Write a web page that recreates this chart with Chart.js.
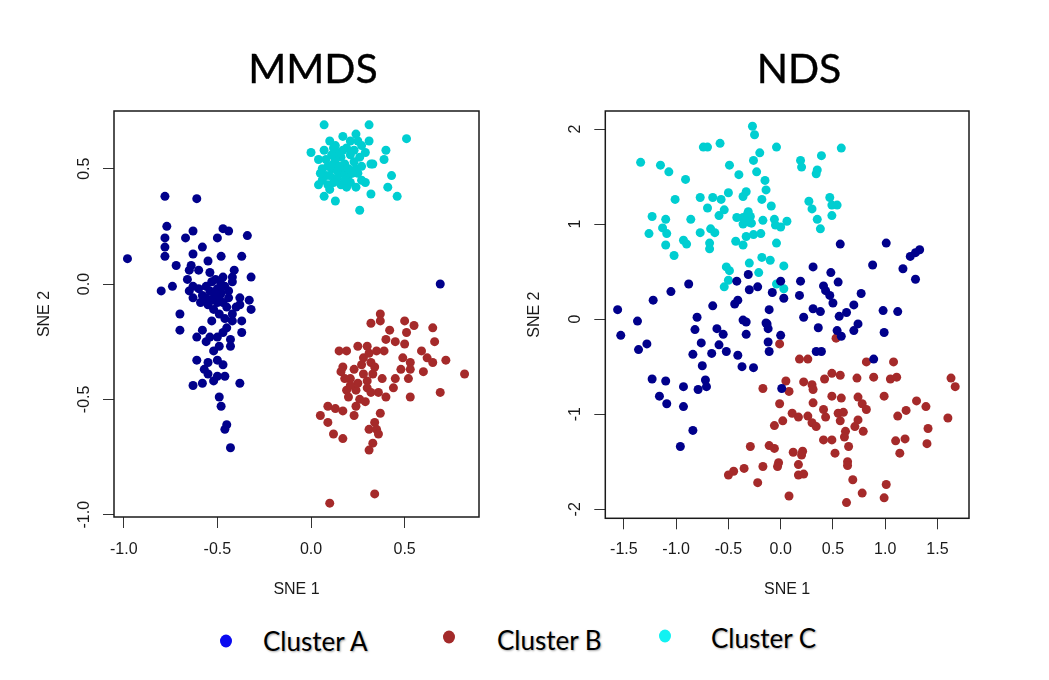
<!DOCTYPE html>
<html><head><meta charset="utf-8">
<script src="https://cdn.jsdelivr.net/npm/chart.js@4.4.0/dist/chart.umd.min.js"></script>
<style>
html,body{margin:0;padding:0;background:#fff;width:1049px;height:680px;overflow:hidden;position:relative;}
canvas{position:absolute;top:0;}
#c1{left:0;} #c2{left:500px;}
.title{position:absolute;font-family:Lato,'Open Sans',sans-serif;font-size:41px;color:#000;transform:translateX(-50%);white-space:nowrap;line-height:1;-webkit-text-stroke:0.4px #000;}
.leg{position:absolute;font-family:Lato,'Open Sans',sans-serif;font-size:26px;color:#000;text-shadow:1px 1px 2px rgba(0,0,0,0.35);line-height:1;white-space:nowrap;transform:translateY(-50%);}
.dot{position:absolute;width:12px;height:13px;border-radius:50%;filter:blur(0.7px);transform:translate(-50%,-50%);}
</style></head>
<body>
<canvas id="c1" width="500" height="610"></canvas>
<canvas id="c2" width="549" height="610"></canvas>
<div class="title" style="left:313px;top:47px">MMDS</div>
<div class="title" style="left:799px;top:47px">NDS</div>
<div id="legend"></div>
<script>
// ---------------- data ----------------
const clusterNames = ['Cluster A', 'Cluster B', 'Cluster C'];
const clusterColors = ['#00008B', '#A52A2A', '#00CED1'];
const legendColors = ['#0a0af0', '#a32a2a', '#12f2f2'];

const mmdsA = [[-0.78,0.38],[-0.61,0.37],[-0.77,0.25],[-0.63,0.23],[-0.47,0.24],[-0.44,0.23],[-0.78,0.20],[-0.67,0.20],[-0.50,0.20],[-0.34,0.21],[-0.58,0.16],[-0.78,0.16],[-0.63,0.13],[-0.78,0.12],[-0.98,0.11],[-0.48,0.12],[-0.37,0.12],[-0.55,0.10],[-0.72,0.08],[-0.64,0.08],[-0.65,0.06],[-0.60,0.06],[-0.41,0.06],[-0.54,0.05],[-0.32,0.03],[-0.47,0.03],[-0.42,0.03],[-0.66,0.02],[-0.53,0.01],[-0.80,-0.03],[-0.74,-0.01],[-0.63,-0.01],[-0.56,-0.01],[-0.48,0.00],[-0.58,-0.05],[-0.54,-0.03],[-0.50,-0.02],[-0.48,-0.04],[-0.44,-0.06],[-0.42,0.01],[-0.38,-0.06],[-0.33,-0.07],[-0.32,-0.11],[-0.38,-0.09],[-0.63,-0.06],[-0.59,-0.08],[-0.55,-0.09],[-0.50,-0.08],[-0.52,-0.11],[-0.49,-0.13],[-0.42,-0.13],[-0.70,-0.13],[-0.42,-0.16],[-0.37,-0.16],[-0.45,-0.19],[-0.70,-0.20],[-0.58,-0.20],[-0.37,-0.21],[-0.61,-0.23],[-0.54,-0.23],[-0.50,-0.23],[-0.56,-0.25],[-0.43,-0.24],[-0.49,-0.27],[-0.43,-0.27],[-0.61,-0.33],[-0.50,-0.33],[-0.47,-0.35],[-0.57,-0.37],[-0.55,-0.39],[-0.50,-0.40],[-0.52,-0.42],[-0.58,-0.43],[-0.63,-0.44],[-0.38,-0.43],[-0.49,-0.49],[-0.48,-0.53],[-0.45,-0.61],[-0.46,-0.63],[-0.43,-0.71],[-0.52,-0.06],[-0.47,-0.08],[-0.49,-0.06],[-0.65,-0.03],[0.69,0.00],[-0.51,-0.04],[-0.46,-0.01],[-0.53,-0.07],[-0.45,-0.10],[-0.56,-0.06],[-0.60,-0.02],[-0.44,-0.03],[-0.51,0.02],[-0.40,-0.10],[-0.46,-0.15],[-0.53,-0.16],[-0.47,-0.21],[-0.52,-0.29],[-0.55,-0.34],[-0.46,-0.40]];
const mmdsB = [[0.37,-0.13],[0.37,-0.16],[0.32,-0.17],[0.50,-0.16],[0.55,-0.18],[0.42,-0.20],[0.51,-0.21],[0.65,-0.19],[0.66,-0.25],[0.40,-0.24],[0.45,-0.25],[0.50,-0.26],[0.59,-0.29],[0.72,-0.33],[0.82,-0.39],[0.62,-0.32],[0.65,-0.34],[0.60,-0.38],[0.69,-0.47],[0.49,-0.32],[0.53,-0.34],[0.53,-0.37],[0.48,-0.37],[0.45,-0.41],[0.52,-0.41],[0.44,-0.45],[0.53,-0.49],[0.15,-0.29],[0.19,-0.29],[0.25,-0.27],[0.30,-0.27],[0.35,-0.29],[0.39,-0.29],[0.28,-0.32],[0.32,-0.34],[0.34,-0.36],[0.17,-0.36],[0.16,-0.38],[0.23,-0.37],[0.21,-0.41],[0.33,-0.39],[0.38,-0.41],[0.30,-0.42],[0.19,-0.46],[0.24,-0.46],[0.30,-0.45],[0.20,-0.49],[0.26,-0.50],[0.36,-0.47],[0.40,-0.49],[0.29,-0.51],[0.24,-0.53],[0.09,-0.53],[0.13,-0.54],[0.17,-0.55],[0.05,-0.57],[0.23,-0.57],[0.37,-0.56],[0.09,-0.60],[0.34,-0.60],[0.31,-0.63],[0.35,-0.63],[0.36,-0.65],[0.12,-0.65],[0.17,-0.67],[0.33,-0.69],[0.31,-0.72],[0.34,-0.91],[0.10,-0.95],[0.31,-0.30],[0.27,-0.35],[0.18,-0.41],[0.25,-0.43],[0.32,-0.47],[0.21,-0.44],[0.28,-0.39]];
const mmdsC = [[0.07,0.69],[0.31,0.69],[0.51,0.63],[0.00,0.57],[0.40,0.58],[0.39,0.54],[0.43,0.47],[0.41,0.42],[0.46,0.38],[0.32,0.39],[0.26,0.32],[0.13,0.36],[0.07,0.38],[0.33,0.52],[0.31,0.62],[0.17,0.64],[0.24,0.65],[0.21,0.62],[0.10,0.62],[0.07,0.58],[0.13,0.60],[0.27,0.60],[0.29,0.57],[0.04,0.54],[0.08,0.54],[0.16,0.55],[0.21,0.56],[0.26,0.55],[0.32,0.52],[0.06,0.50],[0.11,0.50],[0.17,0.49],[0.24,0.50],[0.08,0.47],[0.14,0.46],[0.20,0.47],[0.25,0.48],[0.04,0.43],[0.09,0.43],[0.16,0.43],[0.21,0.44],[0.29,0.44],[0.19,0.42],[0.10,0.41],[0.24,0.42],[0.12,0.52],[0.18,0.52],[0.14,0.57],[0.16,0.48],[0.12,0.44],[0.14,0.49],[0.10,0.47],[0.13,0.54],[0.19,0.59],[0.23,0.53],[0.27,0.51],[0.22,0.48],[0.18,0.45],[0.15,0.51],[0.11,0.56],[0.06,0.45],[0.27,0.45],[0.23,0.58],[0.09,0.51],[0.20,0.50],[0.17,0.58],[0.25,0.62],[0.12,0.59],[0.05,0.48]];

const ndsA = [[-0.31,0.47],[-0.42,0.40],[-0.88,0.37],[-1.05,0.29],[-1.22,0.20],[-0.30,0.31],[-0.22,0.34],[-0.08,0.28],[0.00,0.40],[0.03,0.22],[-0.44,0.16],[-0.65,0.14],[-1.56,0.10],[-0.11,0.10],[0.57,0.79],[1.01,0.80],[1.24,0.66],[1.29,0.70],[1.33,0.73],[0.88,0.57],[1.17,0.53],[1.29,0.42],[0.31,0.55],[0.48,0.49],[0.19,0.40],[0.55,0.39],[0.18,0.25],[0.41,0.35],[0.43,0.30],[0.47,0.25],[0.50,0.17],[0.77,0.27],[0.70,0.15],[0.63,0.07],[0.56,0.03],[-0.41,0.20],[-1.37,-0.02],[-1.53,-0.17],[-0.80,0.02],[-0.82,-0.11],[-0.61,-0.10],[-0.55,-0.16],[-0.36,-0.01],[-0.33,-0.03],[-0.33,-0.16],[-0.13,-0.05],[-0.12,-0.10],[-0.14,-0.04],[0.22,0.02],[0.31,0.11],[0.38,0.08],[0.36,-0.09],[0.54,-0.12],[0.58,-0.18],[0.70,-0.12],[0.74,-0.05],[0.98,0.09],[1.12,0.08],[0.99,-0.14],[0.00,-0.17],[-0.12,-0.24],[-0.11,-0.34],[-0.59,-0.27],[-0.66,-0.36],[-0.52,-0.34],[-0.76,-0.25],[-0.84,-0.37],[-0.75,-0.49],[-0.41,-0.38],[-0.37,-0.50],[-0.26,-0.51],[-1.28,-0.26],[-1.36,-0.32],[-1.23,-0.63],[-1.10,-0.65],[-1.16,-0.81],[-1.09,-0.89],[-0.93,-0.71],[-0.93,-0.92],[-0.72,-0.64],[-0.71,-0.71],[-0.79,-0.74],[0.34,-0.34],[0.39,-0.34],[0.89,-0.42],[0.01,-0.73],[-0.84,-1.17],[-0.96,-1.34]];
const ndsB = [[0.53,-0.20],[-0.01,-0.26],[0.18,-0.42],[0.26,-0.42],[0.82,-0.45],[1.08,-0.45],[0.49,-0.57],[0.57,-0.59],[0.42,-0.63],[0.22,-0.66],[0.30,-0.69],[0.31,-0.74],[0.05,-0.65],[0.08,-0.76],[-0.17,-0.73],[0.73,-0.62],[0.89,-0.61],[1.05,-0.63],[1.11,-0.61],[1.63,-0.62],[1.67,-0.71],[0.99,-0.81],[1.30,-0.86],[1.39,-0.92],[1.20,-0.96],[1.12,-1.02],[1.60,-1.04],[1.41,-1.15],[0.49,-0.81],[0.58,-0.83],[0.74,-0.82],[0.78,-0.89],[0.82,-0.95],[0.31,-0.88],[-0.01,-0.89],[0.11,-0.99],[0.17,-1.03],[0.26,-1.02],[0.30,-1.09],[0.34,-1.13],[0.41,-0.95],[0.43,-1.03],[0.55,-0.99],[0.60,-0.98],[0.57,-1.07],[0.74,-1.06],[0.71,-1.13],[0.79,-1.18],[0.02,-1.07],[-0.06,-1.12],[0.62,-1.18],[0.61,-1.24],[0.41,-1.27],[0.49,-1.27],[0.65,-1.34],[0.52,-1.41],[0.64,-1.50],[0.64,-1.54],[0.69,-1.69],[0.78,-1.83],[0.63,-1.93],[0.99,-1.88],[1.01,-1.74],[1.10,-1.28],[1.19,-1.26],[1.14,-1.41],[1.40,-1.31],[-0.29,-1.34],[-0.11,-1.33],[-0.06,-1.36],[0.12,-1.40],[0.21,-1.39],[0.20,-1.43],[-0.02,-1.51],[-0.03,-1.55],[0.17,-1.53],[0.17,-1.64],[0.22,-1.63],[-0.17,-1.55],[-0.35,-1.57],[-0.45,-1.60],[-0.50,-1.64],[-0.22,-1.72],[0.08,-1.86]];
const ndsC = [[-0.27,2.03],[-0.25,1.94],[-0.58,1.85],[-0.74,1.81],[-0.70,1.81],[-0.04,1.81],[-0.20,1.75],[-0.26,1.67],[-1.34,1.65],[-1.15,1.62],[-1.07,1.55],[-0.49,1.62],[-0.23,1.55],[-0.40,1.52],[-0.91,1.47],[-0.15,1.46],[-0.14,1.36],[-0.50,1.33],[-0.33,1.34],[-0.36,1.29],[-1.01,1.26],[-0.77,1.28],[-0.65,1.28],[-0.57,1.26],[-0.18,1.26],[-0.09,1.19],[-0.70,1.17],[-0.54,1.15],[-0.59,1.09],[-0.31,1.13],[-0.29,1.08],[-0.36,1.07],[-0.42,1.07],[-1.23,1.08],[-1.10,1.05],[-0.86,1.05],[-0.17,1.04],[-0.06,1.05],[0.06,1.03],[-0.36,1.00],[-0.28,1.01],[-0.05,0.99],[-1.13,0.96],[-1.26,0.90],[-1.09,0.90],[-0.77,0.91],[-0.67,0.95],[-0.63,0.91],[-0.33,0.87],[-0.26,0.89],[-0.19,0.90],[-0.93,0.83],[-0.90,0.79],[-0.68,0.80],[-0.68,0.74],[-0.43,0.82],[-0.36,0.78],[-0.04,0.80],[-1.10,0.78],[-1.02,0.67],[-0.18,0.65],[-0.10,0.62],[-0.30,0.59],[0.03,0.56],[-0.52,0.55],[-0.49,0.51],[-0.21,0.49],[-0.04,0.37],[0.03,0.32],[-0.54,0.34],[-0.50,0.41],[0.58,1.80],[0.39,1.72],[0.19,1.67],[0.20,1.60],[0.35,1.57],[0.34,1.53],[0.27,1.24],[0.30,1.16],[0.47,1.28],[0.49,1.20],[0.54,1.20],[0.49,1.09],[0.35,1.05],[0.38,0.95],[0.00,0.97],[-0.32,1.10],[-0.34,1.04],[-0.30,1.02]];

const mmdsXTicks = [-1.0, -0.5, 0.0, 0.5];
const mmdsYTicks = [-1.0, -0.5, 0.0, 0.5];
const ndsXTicks = [-1.5, -1.0, -0.5, 0.0, 0.5, 1.0, 1.5];
const ndsYTicks = [-2, -1, 0, 1, 2];
const axisTitleX = 'SNE 1';
const axisTitleY = 'SNE 2';

// ---------------- helpers ----------------
const TICK_FONT = {family: "'Liberation Sans', Arial, sans-serif", size: 16};
const toPts = arr => arr.map(p => ({x: p[0], y: p[1]}));

const boxPlugin = {
  id: 'boxPlugin',
  afterDraw(chart) {
    const a = chart.chartArea, ctx = chart.ctx;
    ctx.save();
    ctx.strokeStyle = '#1a1a1a';
    ctx.lineWidth = 1.5;
    ctx.strokeRect(a.left, a.top, a.right - a.left, a.bottom - a.top);
    ctx.restore();
  }
};

function makeChart(canvasId, sets, cfg) {
  const datasets = sets.map((s, i) => ({
    label: clusterNames[i],
    data: toPts(s),
    backgroundColor: clusterColors[i],
    borderWidth: 0,
    pointRadius: 4.5,
    pointHoverRadius: 4.5
  }));
  const xTickVals = cfg.xTicks, yTickVals = cfg.yTicks;
  return new Chart(document.getElementById(canvasId), {
    type: 'scatter',
    data: {datasets},
    options: {
      responsive: false,
      animation: false,
      devicePixelRatio: 1,
      layout: {padding: {left: 0, top: cfg.top, right: cfg.right, bottom: 0}},
      plugins: {legend: {display: false}, tooltip: {enabled: false}, title: {display: false}},
      scales: {
        x: {
          type: 'linear', position: 'bottom',
          min: cfg.xMin, max: cfg.xMax,
          afterBuildTicks: s => { s.ticks = xTickVals.map(v => ({value: v})); },
          afterFit: s => { s.height = cfg.xAxisH; },
          ticks: {
            font: TICK_FONT, color: '#1a1a1a', padding: cfg.xTickPad,
            maxRotation: 0, minRotation: 0, autoSkip: false,
            callback: v => cfg.xFmt(v)
          },
          grid: {display: true, drawOnChartArea: false, drawTicks: true, tickLength: 11, color: '#333', tickWidth: 1},
          border: {display: false},
          title: {display: true, text: axisTitleX, font: TICK_FONT, color: '#1a1a1a', padding: {top: 0, bottom: cfg.xTitlePad}}
        },
        y: {
          type: 'linear', position: 'left',
          min: cfg.yMin, max: cfg.yMax,
          afterBuildTicks: s => { s.ticks = yTickVals.map(v => ({value: v})); },
          afterFit: s => { s.width = cfg.yAxisW; },
          ticks: {
            font: TICK_FONT, color: '#1a1a1a', padding: cfg.yTickPad,
            minRotation: 90, maxRotation: 90, crossAlign: 'center', autoSkip: false,
            callback: v => cfg.yFmt(v)
          },
          grid: {display: true, drawOnChartArea: false, drawTicks: true, tickLength: 11, color: '#333', tickWidth: 1},
          border: {display: false},
          title: {display: true, text: axisTitleY, font: TICK_FONT, color: '#1a1a1a', padding: {top: cfg.yTitlePad, bottom: 0}}
        }
      }
    },
    plugins: [boxPlugin]
  });
}

makeChart('c1', [mmdsA, mmdsB, mmdsC], {
  xMin: -1.052, xMax: 0.897, yMin: -1.01, yMax: 0.75,
  xTicks: mmdsXTicks, yTicks: mmdsYTicks,
  top: 111, right: 21, xAxisH: 93, yAxisW: 114,
  xTickPad: 12, yTickPad: 4.7, xTitlePad: 10.6, yTitlePad: 34.9,
  xFmt: v => v.toFixed(1), yFmt: v => v.toFixed(1)
});
makeChart('c2', [ndsA, ndsB, ndsC], {
  xMin: -1.678, xMax: 1.802, yMin: -2.095, yMax: 2.19,
  xTicks: ndsXTicks, yTicks: ndsYTicks,
  top: 111, right: 80, xAxisH: 91.7, yAxisW: 105.3,
  xTickPad: 11, yTickPad: 11.6, xTitlePad: 10.4, yTitlePad: 25.4,
  xFmt: v => v.toFixed(1), yFmt: v => String(Math.round(v))
});

// ---------------- legend ----------------
const legendPos = [{dx: 226, dy: 641, tx: 263, ty: 641}, {dx: 449, dy: 637, tx: 497, ty: 640}, {dx: 665, dy: 636, tx: 711, ty: 638}];
const lg = document.getElementById('legend');
clusterNames.forEach((n, i) => {
  const p = legendPos[i];
  const d = document.createElement('div');
  d.className = 'dot';
  d.style.left = p.dx + 'px'; d.style.top = p.dy + 'px'; d.style.background = legendColors[i];
  lg.appendChild(d);
  const t = document.createElement('div');
  t.className = 'leg';
  t.style.left = p.tx + 'px'; t.style.top = p.ty + 'px';
  t.textContent = n;
  lg.appendChild(t);
});
</script>
</body></html>
